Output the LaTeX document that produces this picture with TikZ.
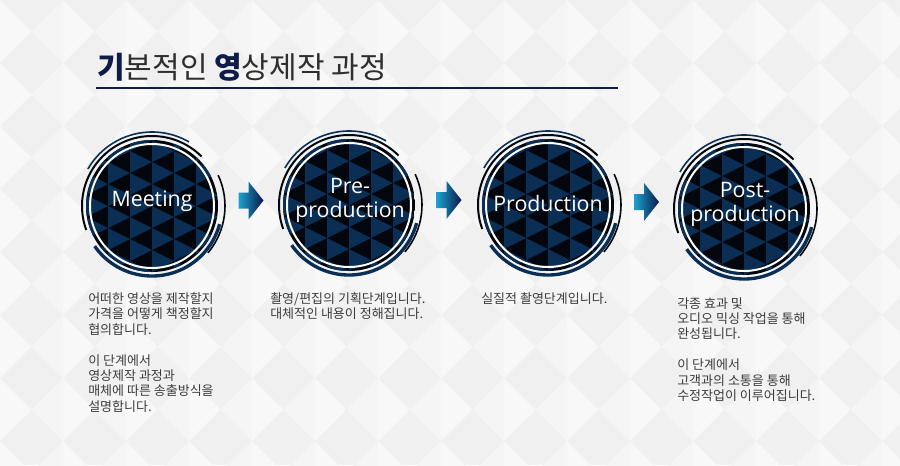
\documentclass[tikz,border=0pt]{standalone}
\usepackage{fontspec}
\setmainfont{Noto Sans CJK KR}
\newfontfamily\labelfont{Open Sans}
\usetikzlibrary{calc}
\definecolor{navy_dark}{HTML}{101C48}
\definecolor{title_gray}{HTML}{2E2E2E}
\definecolor{text_gray}{HTML}{3C3C3C}
\definecolor{disc_blue}{HTML}{0B2E55}
\definecolor{disc_black}{HTML}{03070D}
\definecolor{arrow_cyan}{HTML}{1BA3CF}
\definecolor{arrow_navy}{HTML}{0A1848}
\definecolor{bg_light}{HTML}{F0F0F0}
\definecolor{bg_pale}{HTML}{F8F8F8}

\begin{document}
\begin{tikzpicture}[x=0.75pt,y=-0.75pt,
    disc/.style={circle,inner sep=0pt,minimum size=99pt},
    steplabel/.style={text=white,align=center,font=\labelfont\fontsize{16}{18}\selectfont},
    note/.style={anchor=north west,inner sep=0pt,align=left,text=text_gray,font=\fontsize{9.75}{11.6}\selectfont},
    steparrow/.pic={
      \shade[left color=arrow_cyan,right color=arrow_navy]
        (-12,-8) -- (-2,-8) -- (-2,-19) -- (13,0) -- (-2,19) -- (-2,8) -- (-12,8) -- cycle;
    }]
  \useasboundingbox (0,0) rectangle (900,465);
  \clip (0,0) rectangle (900,465);

  % background
  \fill[bg_light] (0,0) rectangle (900,465);
  \foreach \i in {0,...,14}
    \foreach \j in {-1,...,7} {
      \fill[bg_pale] (63*\i,63*\j) -- ++(31.5,31.5) -- ++(-31.5,31.5) -- cycle;
      \fill[bg_pale!60!bg_light] (63*\i+63,63*\j) -- ++(-31.5,31.5) -- ++(31.5,31.5) -- cycle;
    }

  % title
  \node[anchor=base west,inner sep=0pt,text=title_gray,font=\fontsize{22.5}{24}\selectfont] (title) at (97,78)
    {\textbf{\color{navy_dark}기}본적인 \textbf{\color{navy_dark}영}상제작 과정};
  \draw[navy_dark,line width=1.1pt] (96,88) -- (618,88);

  % steps
  \node[disc] (meet) at (152,206) {};
  \node[disc] (pre) at (349,205) {};
  \node[disc] (prod) at (548,205) {};
  \node[disc] (post) at (744,209) {};

  \foreach \stp in {meet,pre,prod,post} {
    \begin{scope}[shift={(\stp.center)}]
      \begin{scope}
        \clip (0,0) circle (66);
        \fill[disc_black] (-66,-66) rectangle (66,66);
        \foreach \i in {-3,...,2}
          \foreach \j in {-4,...,3}
            \fill[disc_blue] ({22*\i},{22*\j+11*mod(\i+4,2)}) -- ++(22,11) -- ++(-22,11) -- cycle;
      \end{scope}
      \draw[white,line width=1.5pt] (0,0) circle (62);
      \draw[disc_black,line width=1.5pt] (-45:70) arc[start angle=-45,end angle=-200,radius=70];
      \draw[disc_blue,line width=2.5pt] (-215:70) arc[start angle=-215,end angle=-345,radius=70];
      \draw[disc_black,line width=1.2pt] (40:73) arc[start angle=40,end angle=-25,radius=73];
      \draw[disc_blue,line width=1.2pt] (-60:74) arc[start angle=-60,end angle=-150,radius=74];
    \end{scope}
  }

  \foreach \a/\b in {meet/pre,pre/prod,prod/post}
    \path ($(\a)!0.5!(\b)+(0,-5)$) pic {steparrow};

  \node[steplabel] (meet_lbl) at (152,201) {Meeting};
  \node[steplabel] (pre_lbl) at (350,200) {Pre-\\production};
  \node[steplabel] (prod_lbl) at (548,203) {Production};
  \node[steplabel] (post_lbl) at (745,204) {Post-\\production};

  % descriptions
  \node[note] (meet_txt) at (88,292) {어떠한 영상을 제작할지\\가격을 어떻게 책정할지\\협의합니다.\\[11.6pt]이 단계에서\\영상제작 과정과\\매체에 따른 송출방식을\\설명합니다.};
  \node[note] (pre_txt) at (270,292) {촬영/편집의 기획단계입니다.\\대체적인 내용이 정해집니다.};
  \node[note] (prod_txt) at (481,292) {실질적 촬영단계입니다.};
  \node[note] (post_txt) at (677,297) {각종 효과 및\\오디오 믹싱 작업을 통해\\완성됩니다.\\[11.6pt]이 단계에서\\고객과의 소통을 통해\\수정작업이 이루어집니다.};
\end{tikzpicture}
\end{document}
